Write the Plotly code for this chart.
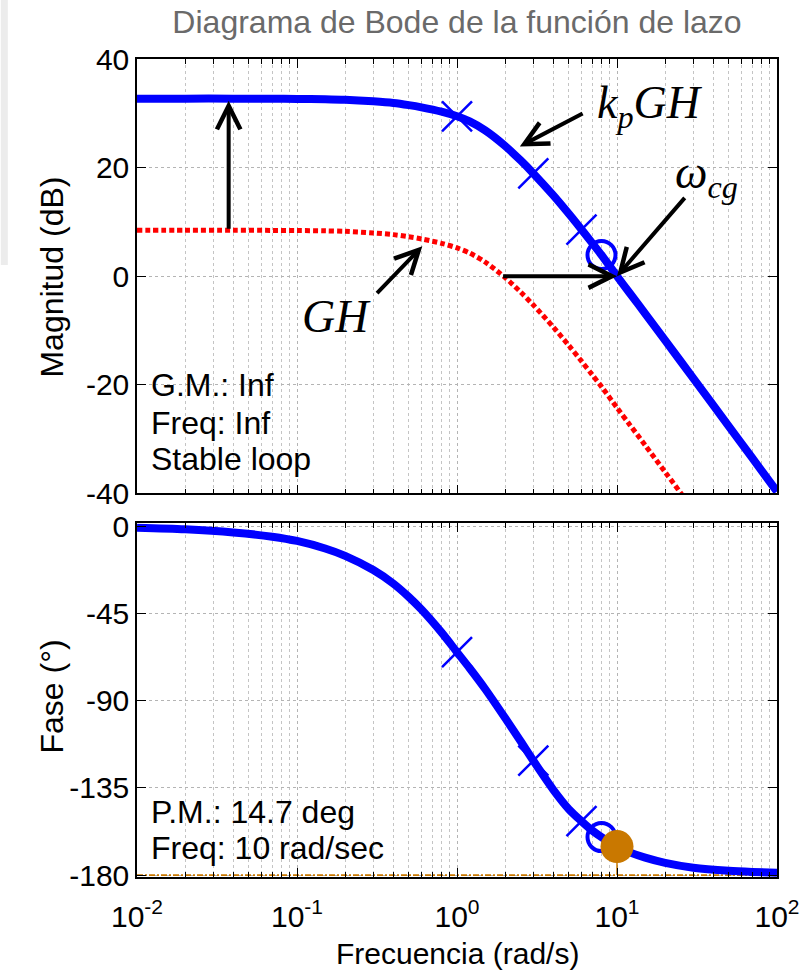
import numpy as np
import plotly.graph_objects as go

# Frequency samples (rad/s)
freq = [0.01, 0.02, 0.04, 0.07, 0.1, 0.15, 0.2, 0.3, 0.4, 0.5, 0.6, 0.8, 1.0, 1.2, 1.5, 2.0,
        2.5, 3.0, 4.0, 5.0, 6.0, 7.0, 8.0, 10.0, 12.0, 15.0, 20.0, 30.0, 50.0, 70.0, 100.0]
# Magnitude of the compensated loop kp*GH (dB)
mag_kpgh = [32.7, 32.7, 32.7, 32.68, 32.65, 32.6, 32.5, 32.2, 31.9, 31.5, 31.1, 30.3, 29.45, 28.5,
            26.85, 23.98, 21.31, 18.93, 14.87, 11.48, 8.59, 6.08, 3.9, 0.0, -3.1, -6.9, -11.84,
            -18.83, -27.66, -33.49, -39.68]
# Magnitude of the plant loop GH (dB)
mag_gh = [8.45, 8.45, 8.45, 8.43, 8.4, 8.35, 8.25, 7.95, 7.65, 7.25, 6.85, 6.05, 5.2, 4.25,
          2.6, -0.27, -2.94, -5.32, -9.38, -12.77, -15.66, -18.17, -20.35, -24.25, -27.35, -31.15,
          -36.09, -43.08, -51.91, -57.74, -63.93]
# Phase of the loop (deg)
phase = [-0.8, -1.6, -3.2, -5.4, -7.6, -11.5, -15.3, -22.6, -29.6, -36.5, -43.0, -54.8, -65.0, -73.3,
         -84.0, -99.0, -111.0, -121.0, -136.0, -146.0, -152.2, -157.0, -160.4, -165.3, -168.3,
         -171.0, -173.7, -176.2, -177.8, -178.4, -178.8]

# Frequencies highlighted along the kp*GH curve
cross_freqs = [1.0, 3.0, 6.0]
circle_freqs = [8.0]

# Stability margins
gain_margin = "Inf"
gm_freq = "Inf"
phase_margin = 14.7
w_cg = 10.0
w_gh_cross = 1.9       # where GH crosses 0 dB
w_gain_arrow = 0.0374  # frequency of the gain-shift arrow

x_ticks = [0.01, 0.1, 1, 10, 100]
x_ticktext = ["10<sup>-2</sup>", "10<sup>-1</sup>", "10<sup>0</sup>", "10<sup>1</sup>", "10<sup>2</sup>"]
mag_ticks = [40, 20, 0, -20, -40]
phase_ticks = [0, -45, -90, -135, -180]

BLUE = "#0000ff"
RED = "#ff0000"
ORANGE = "#c97800"
SANS = "Liberation Sans, Arial, sans-serif"
SERIF = "Liberation Serif, Times New Roman, serif"

W, H = 812, 973
ML, MR, MT, MB = 137, 31, 59, 96
PW, PH = W - ML - MR, H - MT - MB


def px_x(px):
    return (px - ML) / PW


def px_y(py):
    return (H - MB - py) / PH


def at(f, arr):
    return arr[freq.index(f)]


lg = np.log10

fig = go.Figure()

cross_marker = dict(symbol="x-thin", size=30, color=BLUE, line=dict(color=BLUE, width=2.5))
circle_marker = dict(symbol="circle-open", size=28, color=BLUE, line=dict(color=BLUE, width=4))
curve_line = dict(color=BLUE, width=8, shape="spline", smoothing=0.8)

# ---- magnitude panel
fig.add_trace(go.Scatter(x=freq, y=mag_gh, mode="lines", xaxis="x", yaxis="y",
                         line=dict(color=RED, width=5, dash="5px,3px", shape="spline", smoothing=0.8),
                         hoverinfo="skip"))
fig.add_trace(go.Scatter(x=freq, y=mag_kpgh, mode="lines", xaxis="x", yaxis="y",
                         line=curve_line, hoverinfo="skip"))
fig.add_trace(go.Scatter(x=cross_freqs, y=[at(f, mag_kpgh) for f in cross_freqs], mode="markers",
                         xaxis="x", yaxis="y", marker=cross_marker))
fig.add_trace(go.Scatter(x=circle_freqs, y=[at(f, mag_kpgh) for f in circle_freqs], mode="markers",
                         xaxis="x", yaxis="y", marker=circle_marker))

# ---- phase panel
fig.add_trace(go.Scatter(x=[freq[0], freq[-1]], y=[-180, -180], mode="lines", xaxis="x2", yaxis="y2",
                         line=dict(color=ORANGE, width=1.8, dash="6px,2px,2px,2px")))
fig.add_trace(go.Scatter(x=freq, y=phase, mode="lines", xaxis="x2", yaxis="y2",
                         line=curve_line, hoverinfo="skip"))
fig.add_trace(go.Scatter(x=cross_freqs, y=[at(f, phase) for f in cross_freqs], mode="markers",
                         xaxis="x2", yaxis="y2", marker=cross_marker))
fig.add_trace(go.Scatter(x=circle_freqs, y=[at(f, phase) for f in circle_freqs], mode="markers",
                         xaxis="x2", yaxis="y2", marker=circle_marker))
fig.add_trace(go.Scatter(x=[w_cg, w_cg], y=[-180, -180 + phase_margin], mode="lines",
                         xaxis="x2", yaxis="y2", line=dict(color=ORANGE, width=1.5)))
fig.add_trace(go.Scatter(x=[w_cg], y=[-180 + phase_margin], mode="markers", xaxis="x2", yaxis="y2",
                         marker=dict(symbol="circle", size=33, color=ORANGE, line=dict(width=0))))

minor_vals = [k * 10.0 ** e for e in range(-2, 2) for k in range(2, 10)]
tick_font = dict(family=SANS, size=30, color="black")

xaxis_common = dict(
    type="log", range=[-2, 2], tickvals=x_ticks, ticktext=x_ticktext,
    showline=True, linecolor="black", linewidth=1.5, mirror="ticks",
    ticks="inside", ticklen=9, tickwidth=1, tickcolor="black",
    showgrid=True, gridcolor="#b4b4b4", gridwidth=1, griddash="dot", zeroline=False,
    minor=dict(tickvals=minor_vals, ticks="inside", ticklen=5, tickwidth=1, tickcolor="black",
               showgrid=True, gridcolor="#c4c4c4", gridwidth=1, griddash="dot"),
    tickfont=tick_font, ticklabelstandoff=12,
)
yaxis_common = dict(
    showline=True, linecolor="black", linewidth=1.5, mirror="ticks",
    ticks="inside", ticklen=9, tickwidth=1, tickcolor="black",
    showgrid=True, gridcolor="#b4b4b4", gridwidth=1, griddash="dot", zeroline=False,
    tickfont=tick_font,
)

upper_bottom = px_y(493.3)
lower_top = px_y(523.3)

fig.update_layout(
    width=W, height=H,
    margin=dict(l=ML, r=MR, t=MT, b=MB),
    paper_bgcolor="white", plot_bgcolor="white",
    showlegend=False,
    title=dict(text="Diagrama de Bode de la función de lazo", x=0.5, xref="paper",
               y=1 - 22 / H, yref="container", xanchor="center", yanchor="middle",
               font=dict(family=SANS, size=32, color="#6a6a6a")),
    xaxis=dict(xaxis_common, anchor="y", showticklabels=False),
    yaxis=dict(yaxis_common, domain=[upper_bottom, 1], range=[-40, 40], tickvals=mag_ticks,
               ticktext=[str(v) for v in mag_ticks]),
    xaxis2=dict(xaxis_common, anchor="y2"),
    yaxis2=dict(yaxis_common, domain=[0, lower_top], range=[-181, 1.5], tickvals=phase_ticks,
                ticktext=[str(v) for v in phase_ticks]),
)

# white boxes behind the margin read-outs
fig.add_shape(type="rect", xref="paper", yref="paper", layer="between",
              x0=px_x(139), x1=px_x(318), y0=px_y(483), y1=px_y(361),
              fillcolor="white", line=dict(width=0))
fig.add_shape(type="rect", xref="paper", yref="paper", layer="between",
              x0=px_x(139), x1=px_x(393), y0=px_y(869), y1=px_y(787),
              fillcolor="white", line=dict(width=0))
# faint window edge on the left
fig.add_shape(type="rect", xref="paper", yref="paper", layer="below",
              x0=px_x(0), x1=px_x(7), y0=px_y(265), y1=px_y(0),
              fillcolor="#ececec", line=dict(width=0))

text_font = dict(family=SANS, size=32, color="black")
ann = []
for txt, py in [(f"G.M.: {gain_margin}", 385), (f"Freq: {gm_freq}", 423), ("Stable loop", 459),
                (f"P.M.: {phase_margin} deg", 812), (f"Freq: {w_cg:g} rad/sec", 848)]:
    ann.append(dict(text=txt, xref="paper", yref="paper", x=px_x(149), y=px_y(py),
                    xanchor="left", yanchor="middle", showarrow=False, font=text_font))

# axis titles
ann.append(dict(text="Magnitud (dB)", xref="paper", yref="paper", x=px_x(51), y=px_y(277),
                xanchor="center", yanchor="middle", textangle=-90, showarrow=False,
                font=dict(family=SANS, size=32, color="black")))
ann.append(dict(text="Fase (°)", xref="paper", yref="paper", x=px_x(51), y=px_y(697),
                xanchor="center", yanchor="middle", textangle=-90, showarrow=False,
                font=dict(family=SANS, size=32, color="black")))
ann.append(dict(text="Frecuencia (rad/s)", xref="paper", yref="paper", x=0.5, y=px_y(953),
                xanchor="center", yanchor="middle", showarrow=False,
                font=dict(family=SANS, size=30, color="black")))

# curve labels
math_font = dict(family=SERIF, size=46, color="black")
ann.append(dict(text="<i>k</i><sub><i>p</i></sub><i>GH</i>", xref="x", yref="y",
                x=lg(7.33), y=31.4, xanchor="left", yanchor="middle", showarrow=False, font=math_font))
ann.append(dict(text="<i>ω</i><sub><i>cg</i></sub>", xref="x", yref="y",
                x=lg(22.4), y=18.5, xanchor="left", yanchor="middle", showarrow=False, font=math_font))
ann.append(dict(text="<i>GH</i>", xref="x", yref="y",
                x=lg(0.1048), y=-7.5, xanchor="left", yanchor="middle", showarrow=False, font=math_font))

arrow = dict(xref="x", yref="y", axref="x", ayref="y", text="", showarrow=True,
             arrowhead=5, arrowsize=1.15, arrowwidth=4, arrowcolor="black", standoff=0)
# gain shift from GH to kp*GH
ann.append(dict(arrow, x=lg(w_gain_arrow), y=mag_kpgh[0] - 0.4, ax=lg(w_gain_arrow), ay=mag_gh[0]))
# 0 dB crossing moves from GH to kp*GH
ann.append(dict(arrow, x=lg(w_cg), y=0, ax=lg(w_gh_cross), ay=0))
# label pointers
ann.append(dict(arrow, x=lg(2.47), y=23.9, ax=lg(6.23), ay=30.1))
ann.append(dict(arrow, x=lg(w_cg), y=0, ax=lg(27.0), ay=14.7))
ann.append(dict(arrow, x=lg(0.607), y=5.5, ax=lg(0.31), ay=-3.4))

fig.update_layout(annotations=ann)

fig.write_html("out.html")
